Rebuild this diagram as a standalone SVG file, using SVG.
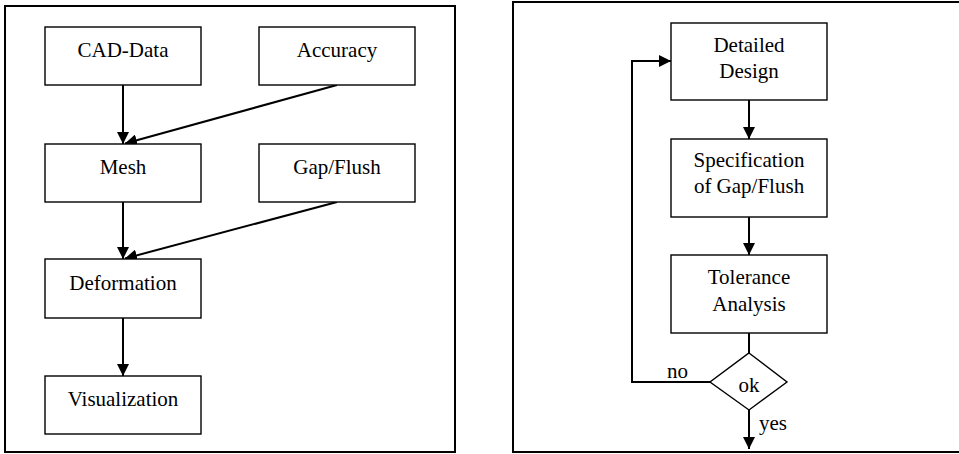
<svg xmlns="http://www.w3.org/2000/svg" width="959" height="454" viewBox="0 0 959 454">
<style>
.frame{fill:none;stroke:#000;stroke-width:2}
.box{fill:#fff;stroke:#000;stroke-width:1.4}
.t{font-family:"Liberation Serif","Times New Roman",serif;font-size:21px;fill:#000;text-anchor:middle}
.lbl{font-family:"Liberation Serif","Times New Roman",serif;font-size:21px;fill:#000}
.c{fill:none;stroke:#000;stroke-width:2}
</style>
<defs>
<marker id="ah" markerWidth="12" markerHeight="12" refX="12" refY="6" orient="auto" markerUnits="userSpaceOnUse">
<path d="M0,0 L12,6 L0,12 Z" fill="#000"/>
</marker>
</defs>
<rect class="frame" x="5" y="6" width="450" height="446"/>
<rect class="frame" x="513" y="2" width="460" height="450"/>
<g id="connectors">
<line class="c" x1="123" y1="85" x2="123" y2="144" marker-end="url(#ah)"/>
<line class="c" x1="337" y1="85" x2="125" y2="143.5" marker-end="url(#ah)"/>
<line class="c" x1="123" y1="202" x2="123" y2="259" marker-end="url(#ah)"/>
<line class="c" x1="337" y1="202" x2="125" y2="258.5" marker-end="url(#ah)"/>
<line class="c" x1="123" y1="318" x2="123" y2="376" marker-end="url(#ah)"/>
<line class="c" x1="749" y1="100" x2="749" y2="139" marker-end="url(#ah)"/>
<line class="c" x1="749" y1="217" x2="749" y2="255" marker-end="url(#ah)"/>
<line class="c" x1="749" y1="333" x2="749" y2="353"/>
<polyline class="c" points="710,382 632,382 632,61 671,61" marker-end="url(#ah)"/>
<line class="c" x1="749" y1="410" x2="749" y2="449" marker-end="url(#ah)"/>
<text class="lbl" x="667" y="378">no</text>
<text class="lbl" x="759" y="430">yes</text>
</g>
<g id="cad"><rect class="box" x="45" y="27" width="156" height="58"/><text class="t" x="123" y="57">CAD-Data</text></g>
<g id="accuracy"><rect class="box" x="259" y="27" width="156" height="58"/><text class="t" x="337" y="57">Accuracy</text></g>
<g id="mesh"><rect class="box" x="45" y="144" width="156" height="58"/><text class="t" x="123" y="174">Mesh</text></g>
<g id="gapflush"><rect class="box" x="259" y="144" width="156" height="58"/><text class="t" x="337" y="174">Gap/Flush</text></g>
<g id="deformation"><rect class="box" x="45" y="259" width="156" height="59"/><text class="t" x="123" y="290">Deformation</text></g>
<g id="visualization"><rect class="box" x="45" y="376" width="156" height="58"/><text class="t" x="123" y="406">Visualization</text></g>
<g id="detailed"><rect class="box" x="671" y="23" width="156" height="77"/><text class="t" x="749" y="52">Detailed</text><text class="t" x="749" y="78">Design</text></g>
<g id="spec"><rect class="box" x="671" y="139" width="156" height="78"/><text class="t" x="749" y="167">Specification</text><text class="t" x="749" y="193">of Gap/Flush</text></g>
<g id="tolerance"><rect class="box" x="671" y="255" width="156" height="78"/><text class="t" x="749" y="284">Tolerance</text><text class="t" x="749" y="311">Analysis</text></g>
<g id="ok"><polygon class="box" points="749,353 787,382 749,410 710,382"/><text class="t" x="749" y="392">ok</text></g>
</svg>
